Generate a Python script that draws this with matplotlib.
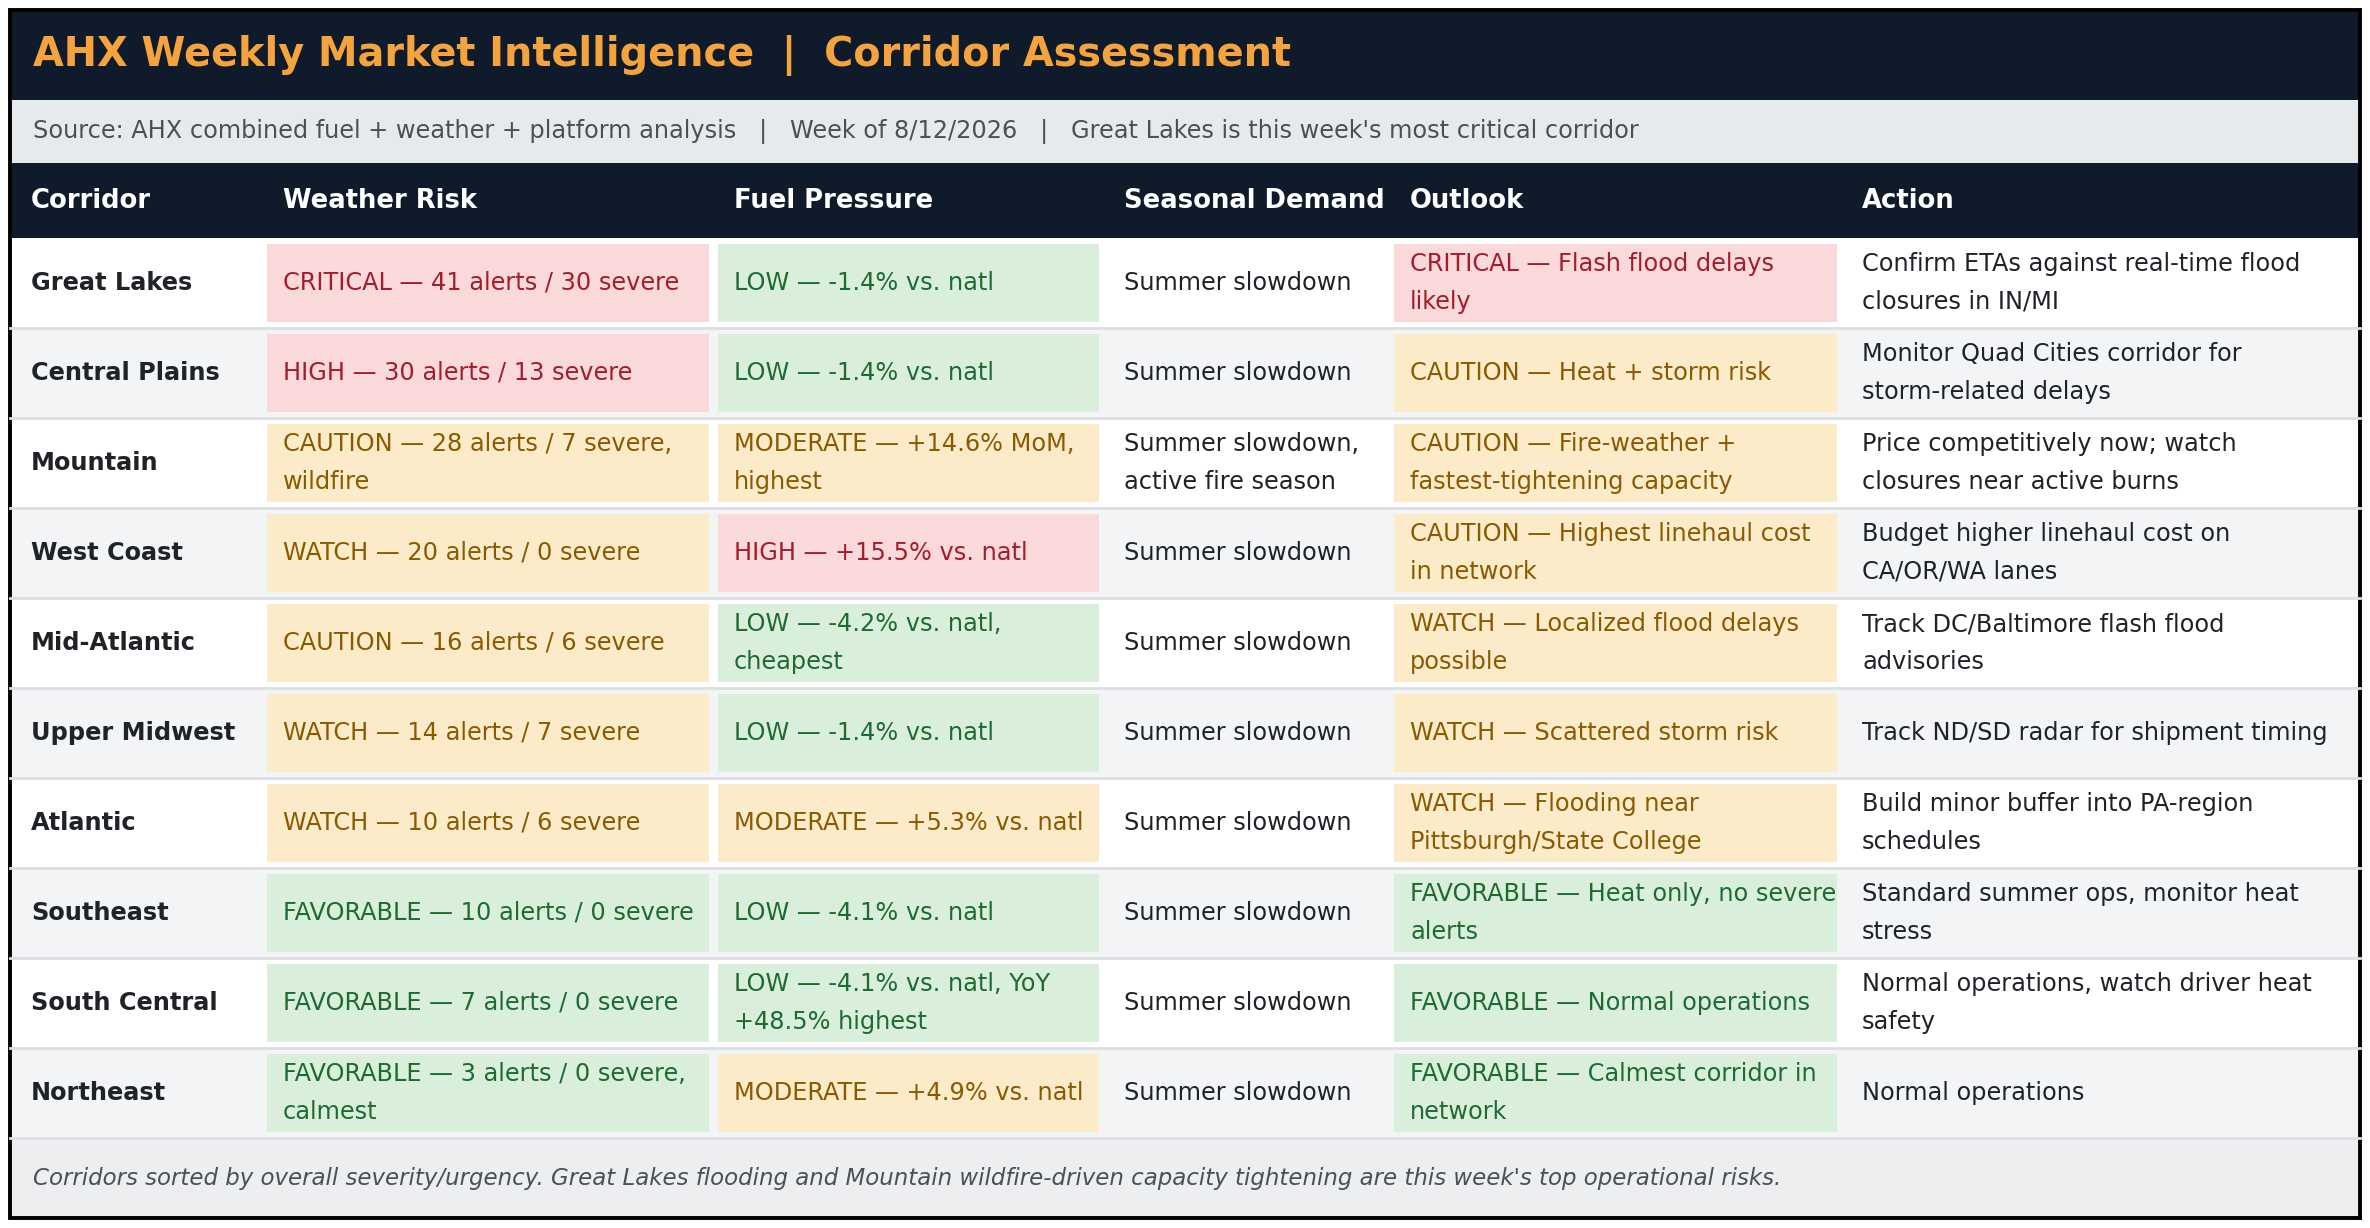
import textwrap
import matplotlib
matplotlib.use("Agg")
import matplotlib.pyplot as plt
from matplotlib.patches import Rectangle

# ---- table content ----
title = "AHX Weekly Market Intelligence  |  Corridor Assessment"
subtitle = ("Source: AHX combined fuel + weather + platform analysis   |   "
            "Week of 8/12/2026   |   Great Lakes is this week's most critical corridor")
footnote = ("Corridors sorted by overall severity/urgency. Great Lakes flooding and Mountain "
            "wildfire-driven capacity tightening are this week's top operational risks.")

headers = ["Corridor", "Weather Risk", "Fuel Pressure", "Seasonal Demand", "Outlook", "Action"]

corridors = ["Great Lakes", "Central Plains", "Mountain", "West Coast", "Mid-Atlantic",
             "Upper Midwest", "Atlantic", "Southeast", "South Central", "Northeast"]

weather = ["CRITICAL — 41 alerts / 30 severe",
           "HIGH — 30 alerts / 13 severe",
           "CAUTION — 28 alerts / 7 severe, wildfire",
           "WATCH — 20 alerts / 0 severe",
           "CAUTION — 16 alerts / 6 severe",
           "WATCH — 14 alerts / 7 severe",
           "WATCH — 10 alerts / 6 severe",
           "FAVORABLE — 10 alerts / 0 severe",
           "FAVORABLE — 7 alerts / 0 severe",
           "FAVORABLE — 3 alerts / 0 severe, calmest"]
weather_level = ["red", "red", "amber", "amber", "amber", "amber", "amber", "green", "green", "green"]

fuel = ["LOW — -1.4% vs. natl",
        "LOW — -1.4% vs. natl",
        "MODERATE — +14.6% MoM, highest",
        "HIGH — +15.5% vs. natl",
        "LOW — -4.2% vs. natl, cheapest",
        "LOW — -1.4% vs. natl",
        "MODERATE — +5.3% vs. natl",
        "LOW — -4.1% vs. natl",
        "LOW — -4.1% vs. natl, YoY +48.5% highest",
        "MODERATE — +4.9% vs. natl"]
fuel_level = ["green", "green", "amber", "red", "green", "green", "amber", "green", "green", "amber"]

seasonal = ["Summer slowdown", "Summer slowdown", "Summer slowdown, active fire season",
            "Summer slowdown", "Summer slowdown", "Summer slowdown", "Summer slowdown",
            "Summer slowdown", "Summer slowdown", "Summer slowdown"]

outlook = ["CRITICAL — Flash flood delays likely",
           "CAUTION — Heat + storm risk",
           "CAUTION — Fire-weather + fastest-tightening capacity",
           "CAUTION — Highest linehaul cost in network",
           "WATCH — Localized flood delays possible",
           "WATCH — Scattered storm risk",
           "WATCH — Flooding near Pittsburgh/State College",
           "FAVORABLE — Heat only, no severe alerts",
           "FAVORABLE — Normal operations",
           "FAVORABLE — Calmest corridor in network"]
outlook_level = ["red", "amber", "amber", "amber", "amber", "amber", "amber", "green", "green", "green"]

action = ["Confirm ETAs against real-time flood closures in IN/MI",
          "Monitor Quad Cities corridor for storm-related delays",
          "Price competitively now; watch closures near active burns",
          "Budget higher linehaul cost on CA/OR/WA lanes",
          "Track DC/Baltimore flash flood advisories",
          "Track ND/SD radar for shipment timing",
          "Build minor buffer into PA-region schedules",
          "Standard summer ops, monitor heat stress",
          "Normal operations, watch driver heat safety",
          "Normal operations"]

# ---- styles ----
NAVY = "#0f1b2b"
ORANGE = "#f5a33c"
TXT = "#1f2328"
PILL_BG = {"red": "#f9d9d9", "amber": "#fcebc8", "green": "#d9efdc"}
PILL_FG = {"red": "#a31d2b", "amber": "#8a5a00", "green": "#1e6b30"}

W, H = 2370, 1228
fig = plt.figure(figsize=(W / 200, H / 200), dpi=200)
ax = fig.add_axes([0, 0, 1, 1])
ax.set_xlim(0, W)
ax.set_ylim(H, 0)
ax.axis("off")

left, right = 10, 2360
top, bottom = 10, 1218
title_h, sub_h, head_h, row_h = 90, 63, 75, 90
col_w = [252, 451, 390, 286, 452, 519]
col_x = [left]
for w in col_w:
    col_x.append(col_x[-1] + w)
wrap_w = [16, 32, 26, 18, 32, 38]
pad = 21
fs_body = 8.65

# title band
ax.add_patch(Rectangle((left, top), right - left, title_h, color=NAVY, lw=0))
ax.text(left + 23, top + title_h / 2, title, color=ORANGE, fontsize=14.3,
        fontweight="bold", va="center", ha="left")

# subtitle band
y0 = top + title_h
ax.add_patch(Rectangle((left, y0), right - left, sub_h, color="#e7eaed", lw=0))
ax.text(left + 23, y0 + sub_h / 2, subtitle, color="#4b5058", fontsize=8.65,
        va="center", ha="left")

# header row
y0 += sub_h
ax.add_patch(Rectangle((left, y0), right - left, head_h, color=NAVY, lw=0))
for j, hd in enumerate(headers):
    ax.text(col_x[j] + pad, y0 + head_h / 2, hd, color="white", fontsize=9.3,
            fontweight="bold", va="center", ha="left")

# body rows
y0 += head_h
columns = [corridors, weather, fuel, seasonal, outlook, action]
levels = {1: weather_level, 2: fuel_level, 4: outlook_level}
for i in range(len(corridors)):
    ry = y0 + i * row_h
    ax.add_patch(Rectangle((left, ry), right - left, row_h,
                           color="white" if i % 2 == 0 else "#f3f4f6", lw=0))
    ax.plot([left, right], [ry + row_h, ry + row_h], color="#dcdee1", lw=1.0)
    cy = ry + row_h / 2
    for j, col in enumerate(columns):
        txt = "\n".join(textwrap.wrap(col[i], wrap_w[j]))
        color = TXT
        if j in levels:
            lv = levels[j][i]
            ax.add_patch(Rectangle((col_x[j] + 5, ry + 6), col_w[j] - 9, row_h - 12,
                                   color=PILL_BG[lv], lw=0))
            color = PILL_FG[lv]
        ax.text(col_x[j] + pad, cy, txt, color=color, fontsize=fs_body,
                fontweight="bold" if j == 0 else "normal",
                va="center", ha="left", linespacing=1.7)

# footer
fy = y0 + len(corridors) * row_h
ax.add_patch(Rectangle((left, fy), right - left, bottom - fy, color="#eceef0", lw=0))
ax.text(left + 23, (fy + bottom) / 2, footnote, color="#4b5058", fontsize=8.25,
        style="italic", va="center", ha="left")

# outer border
ax.add_patch(Rectangle((left, top), right - left, bottom - top, fill=False,
                       ec="black", lw=1.4))

fig.savefig("out.png", dpi=200, facecolor="white")
